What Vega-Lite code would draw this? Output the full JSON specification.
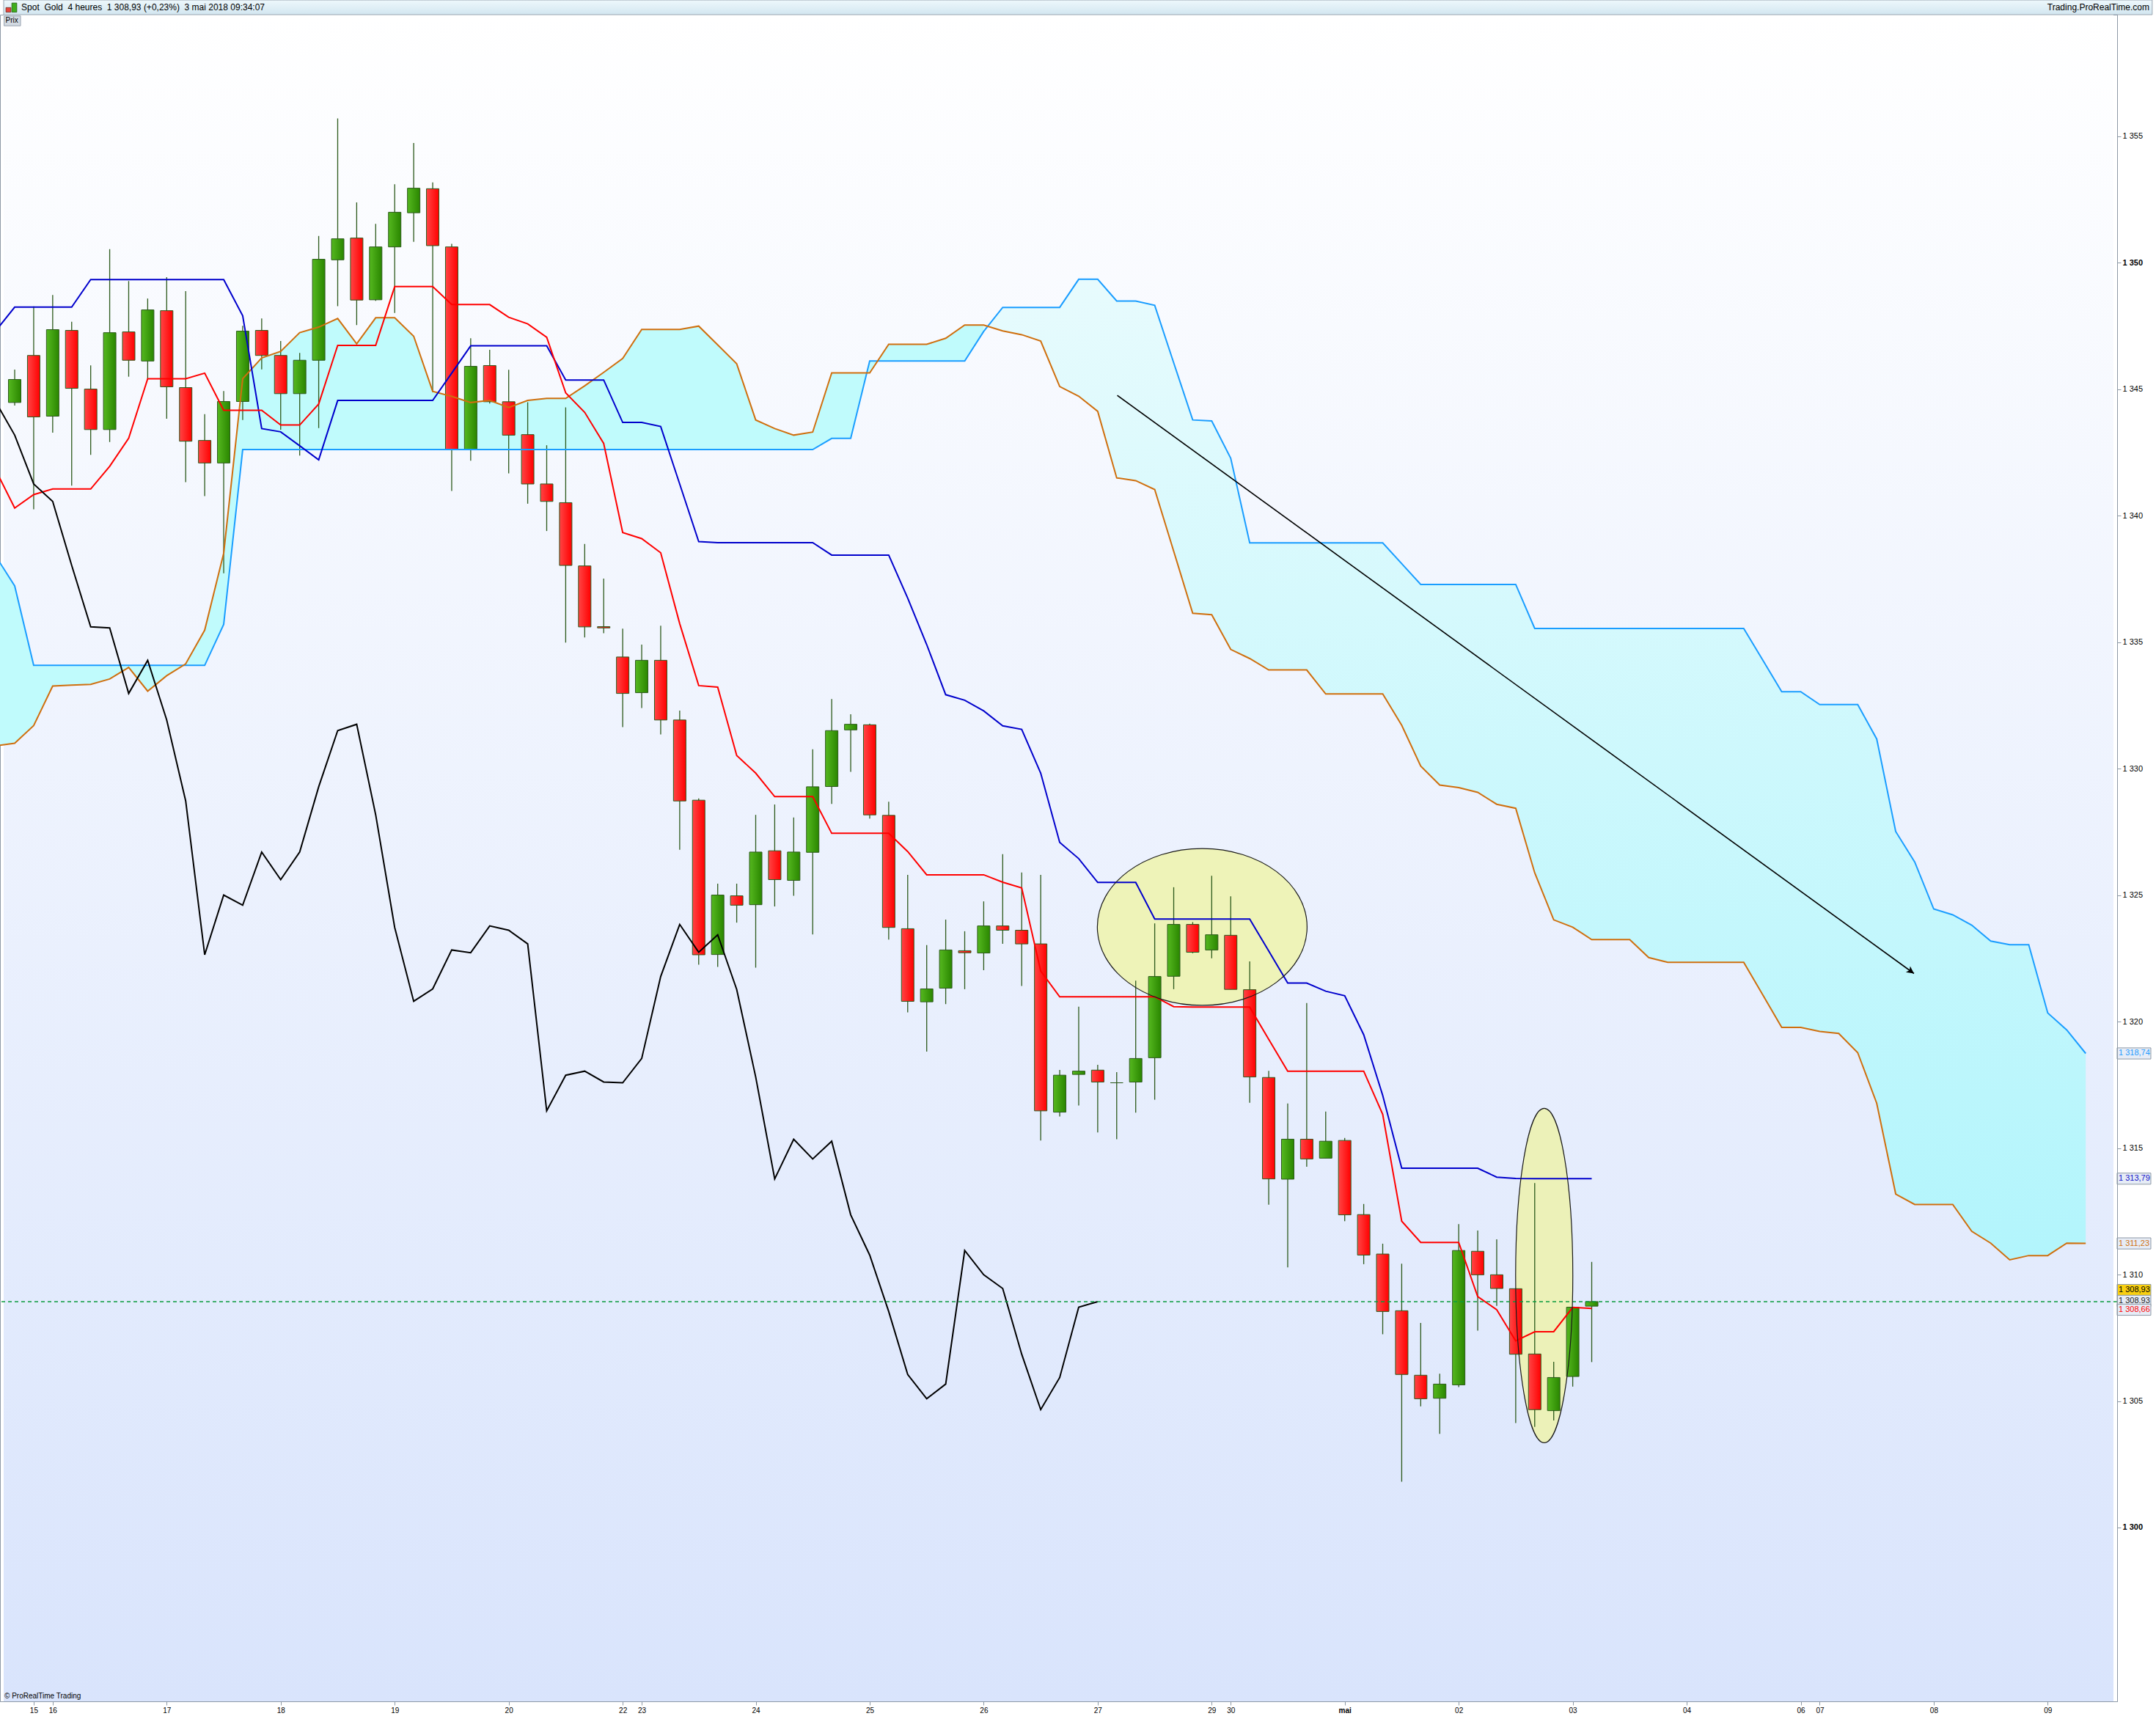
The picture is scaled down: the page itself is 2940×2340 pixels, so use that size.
{
  "$schema": "https://vega.github.io/schema/vega-lite/v6.json",
  "width": 2887,
  "height": 2300,
  "autosize": "none",
  "padding": {"left": 0, "top": 20, "right": 53, "bottom": 20},
  "background": "white",
  "config": {"view": {"stroke": "#8d99a6", "strokeWidth": 1}, "font": "Liberation Sans"},
  "datasets": {
    "ichi": [
      {"i": -1, "tk": 1341.8, "kj": 1347.3, "sa": 1330.9, "sb": 1338.4, "ck": 1344.50},
      {"i": 0, "o": 1344.47, "h": 1345.77, "l": 1344.35, "c": 1345.38, "tk": 1340.30, "kj": 1348.24, "sa": 1331.0, "sb": 1337.22, "ck": 1343.18},
      {"i": 1, "o": 1346.33, "h": 1348.27, "l": 1340.25, "c": 1343.90, "tk": 1340.83, "kj": 1348.24, "sa": 1331.7, "sb": 1334.08, "ck": 1341.25},
      {"i": 2, "o": 1343.93, "h": 1348.72, "l": 1343.28, "c": 1347.35, "tk": 1341.05, "kj": 1348.24, "sa": 1333.26, "sb": 1334.08, "ck": 1340.56},
      {"i": 3, "o": 1347.32, "h": 1347.66, "l": 1341.18, "c": 1345.03, "tk": 1341.05, "kj": 1348.24, "sa": 1333.30, "sb": 1334.08, "ck": 1338.03},
      {"i": 4, "o": 1345.00, "h": 1345.94, "l": 1342.40, "c": 1343.40, "tk": 1341.05, "kj": 1349.33, "sa": 1333.33, "sb": 1334.08, "ck": 1335.60},
      {"i": 5, "o": 1343.40, "h": 1350.53, "l": 1342.91, "c": 1347.23, "tk": 1341.95, "kj": 1349.33, "sa": 1333.54, "sb": 1334.08, "ck": 1335.56},
      {"i": 6, "o": 1347.26, "h": 1349.27, "l": 1345.49, "c": 1346.14, "tk": 1343.06, "kj": 1349.33, "sa": 1334.00, "sb": 1334.08, "ck": 1332.97},
      {"i": 7, "o": 1346.11, "h": 1348.58, "l": 1345.38, "c": 1348.13, "tk": 1345.41, "kj": 1349.33, "sa": 1333.06, "sb": 1334.08, "ck": 1334.28},
      {"i": 8, "o": 1348.10, "h": 1349.42, "l": 1343.83, "c": 1345.09, "tk": 1345.41, "kj": 1349.33, "sa": 1333.67, "sb": 1334.08, "ck": 1331.92},
      {"i": 9, "o": 1345.06, "h": 1348.87, "l": 1341.32, "c": 1342.94, "tk": 1345.41, "kj": 1349.33, "sa": 1334.14, "sb": 1334.08, "ck": 1328.72},
      {"i": 10, "o": 1342.97, "h": 1344.01, "l": 1340.77, "c": 1342.08, "tk": 1345.63, "kj": 1349.33, "sa": 1335.47, "sb": 1334.08, "ck": 1322.64},
      {"i": 11, "o": 1342.08, "h": 1344.92, "l": 1337.72, "c": 1344.51, "tk": 1344.16, "kj": 1349.33, "sa": 1338.51, "sb": 1335.70, "ck": 1325.00},
      {"i": 12, "o": 1344.51, "h": 1347.50, "l": 1343.78, "c": 1347.29, "tk": 1344.16, "kj": 1347.90, "sa": 1345.41, "sb": 1342.61, "ck": 1324.60},
      {"i": 13, "o": 1347.32, "h": 1347.79, "l": 1345.78, "c": 1346.33, "tk": 1344.16, "kj": 1343.44, "sa": 1346.23, "sb": 1342.61, "ck": 1326.70},
      {"i": 14, "o": 1346.33, "h": 1346.90, "l": 1343.39, "c": 1344.82, "tk": 1343.58, "kj": 1343.31, "sa": 1346.49, "sb": 1342.61, "ck": 1325.61},
      {"i": 15, "o": 1344.82, "h": 1346.43, "l": 1342.37, "c": 1346.14, "tk": 1343.58, "kj": 1342.76, "sa": 1347.23, "sb": 1342.61, "ck": 1326.70},
      {"i": 16, "o": 1346.14, "h": 1351.05, "l": 1343.46, "c": 1350.13, "tk": 1344.41, "kj": 1342.20, "sa": 1347.45, "sb": 1342.61, "ck": 1329.28},
      {"i": 17, "o": 1350.11, "h": 1355.70, "l": 1348.28, "c": 1350.94, "tk": 1346.73, "kj": 1344.55, "sa": 1347.79, "sb": 1342.61, "ck": 1331.50},
      {"i": 18, "o": 1350.97, "h": 1352.38, "l": 1347.53, "c": 1348.52, "tk": 1346.73, "kj": 1344.55, "sa": 1346.79, "sb": 1342.61, "ck": 1331.75},
      {"i": 19, "o": 1348.53, "h": 1351.53, "l": 1348.49, "c": 1350.62, "tk": 1346.73, "kj": 1344.55, "sa": 1347.82, "sb": 1342.61, "ck": 1328.17},
      {"i": 20, "o": 1350.62, "h": 1353.10, "l": 1348.01, "c": 1351.99, "tk": 1349.05, "kj": 1344.55, "sa": 1347.82, "sb": 1342.61, "ck": 1323.72},
      {"i": 21, "o": 1351.97, "h": 1354.73, "l": 1350.82, "c": 1352.94, "tk": 1349.05, "kj": 1344.55, "sa": 1347.09, "sb": 1342.61, "ck": 1320.80},
      {"i": 22, "o": 1352.92, "h": 1353.17, "l": 1344.88, "c": 1350.67, "tk": 1349.05, "kj": 1344.55, "sa": 1344.91, "sb": 1342.61, "ck": 1321.29},
      {"i": 23, "o": 1350.62, "h": 1350.74, "l": 1340.97, "c": 1342.62, "tk": 1348.34, "kj": 1345.63, "sa": 1344.71, "sb": 1342.61, "ck": 1322.83},
      {"i": 24, "o": 1342.62, "h": 1347.01, "l": 1342.17, "c": 1345.90, "tk": 1348.34, "kj": 1346.71, "sa": 1344.47, "sb": 1342.61, "ck": 1322.72},
      {"i": 25, "o": 1345.93, "h": 1346.55, "l": 1344.43, "c": 1344.50, "tk": 1348.34, "kj": 1346.71, "sa": 1344.55, "sb": 1342.61, "ck": 1323.78},
      {"i": 26, "o": 1344.50, "h": 1345.76, "l": 1341.67, "c": 1343.18, "tk": 1347.84, "kj": 1346.71, "sa": 1344.27, "sb": 1342.61, "ck": 1323.61},
      {"i": 27, "o": 1343.20, "h": 1344.48, "l": 1340.47, "c": 1341.25, "tk": 1347.58, "kj": 1346.71, "sa": 1344.55, "sb": 1342.61, "ck": 1323.07},
      {"i": 28, "o": 1341.25, "h": 1342.78, "l": 1339.39, "c": 1340.56, "tk": 1347.05, "kj": 1346.71, "sa": 1344.63, "sb": 1342.61, "ck": 1316.47},
      {"i": 29, "o": 1340.51, "h": 1344.28, "l": 1334.98, "c": 1338.03, "tk": 1344.85, "kj": 1345.36, "sa": 1344.63, "sb": 1342.61, "ck": 1317.88},
      {"i": 30, "o": 1338.01, "h": 1338.88, "l": 1335.18, "c": 1335.60, "tk": 1344.08, "kj": 1345.36, "sa": 1345.13, "sb": 1342.61, "ck": 1318.04},
      {"i": 31, "o": 1335.61, "h": 1337.51, "l": 1335.35, "c": 1335.56, "tk": 1342.85, "kj": 1345.36, "sa": 1345.66, "sb": 1342.61, "ck": 1317.61},
      {"i": 32, "o": 1334.41, "h": 1335.53, "l": 1331.64, "c": 1332.97, "tk": 1339.33, "kj": 1343.68, "sa": 1346.21, "sb": 1342.61, "ck": 1317.58},
      {"i": 33, "o": 1333.00, "h": 1334.90, "l": 1332.39, "c": 1334.28, "tk": 1339.09, "kj": 1343.68, "sa": 1347.36, "sb": 1342.61, "ck": 1318.54},
      {"i": 34, "o": 1334.28, "h": 1335.65, "l": 1331.35, "c": 1331.92, "tk": 1338.53, "kj": 1343.52, "sa": 1347.36, "sb": 1342.61, "ck": 1321.78},
      {"i": 35, "o": 1331.92, "h": 1332.29, "l": 1326.79, "c": 1328.72, "tk": 1335.73, "kj": 1341.25, "sa": 1347.36, "sb": 1342.61, "ck": 1323.84},
      {"i": 36, "o": 1328.75, "h": 1328.82, "l": 1322.25, "c": 1322.64, "tk": 1333.28, "kj": 1338.97, "sa": 1347.49, "sb": 1342.61, "ck": 1322.74},
      {"i": 37, "o": 1322.65, "h": 1325.45, "l": 1322.16, "c": 1325.00, "tk": 1333.22, "kj": 1338.93, "sa": 1346.75, "sb": 1342.61, "ck": 1323.43},
      {"i": 38, "o": 1324.97, "h": 1325.45, "l": 1323.91, "c": 1324.60, "tk": 1330.52, "kj": 1338.93, "sa": 1346.00, "sb": 1342.61, "ck": 1321.27},
      {"i": 39, "o": 1324.62, "h": 1328.17, "l": 1322.13, "c": 1326.70, "tk": 1329.82, "kj": 1338.93, "sa": 1343.78, "sb": 1342.61, "ck": 1317.81},
      {"i": 40, "o": 1326.75, "h": 1328.58, "l": 1324.55, "c": 1325.61, "tk": 1328.89, "kj": 1338.93, "sa": 1343.44, "sb": 1342.61, "ck": 1313.78},
      {"i": 41, "o": 1325.58, "h": 1328.07, "l": 1324.97, "c": 1326.70, "tk": 1328.89, "kj": 1338.93, "sa": 1343.18, "sb": 1342.61, "ck": 1315.35},
      {"i": 42, "o": 1326.69, "h": 1330.76, "l": 1323.44, "c": 1329.28, "tk": 1328.89, "kj": 1338.93, "sa": 1343.30, "sb": 1342.61, "ck": 1314.57},
      {"i": 43, "o": 1329.29, "h": 1332.75, "l": 1328.60, "c": 1331.50, "tk": 1327.44, "kj": 1338.44, "sa": 1345.64, "sb": 1343.05, "ck": 1315.27},
      {"i": 44, "o": 1331.53, "h": 1332.15, "l": 1329.87, "c": 1331.75, "tk": 1327.44, "kj": 1338.44, "sa": 1345.64, "sb": 1343.05, "ck": 1312.36},
      {"i": 45, "o": 1331.73, "h": 1331.78, "l": 1328.02, "c": 1328.17, "tk": 1327.44, "kj": 1338.44, "sa": 1345.64, "sb": 1346.11, "ck": 1310.77},
      {"i": 46, "o": 1328.15, "h": 1328.69, "l": 1323.24, "c": 1323.72, "tk": 1327.44, "kj": 1338.44, "sa": 1346.77, "sb": 1346.11, "ck": 1308.54},
      {"i": 47, "o": 1323.67, "h": 1325.80, "l": 1320.36, "c": 1320.80, "tk": 1326.72, "kj": 1336.74, "sa": 1346.77, "sb": 1346.11, "ck": 1306.05},
      {"i": 48, "o": 1320.78, "h": 1323.02, "l": 1318.81, "c": 1321.29, "tk": 1325.80, "kj": 1334.90, "sa": 1346.77, "sb": 1346.11, "ck": 1305.09},
      {"i": 49, "o": 1321.32, "h": 1324.03, "l": 1320.69, "c": 1322.83, "tk": 1325.80, "kj": 1332.92, "sa": 1347.01, "sb": 1346.11, "ck": 1305.67},
      {"i": 50, "o": 1322.80, "h": 1323.57, "l": 1321.28, "c": 1322.72, "tk": 1325.80, "kj": 1332.70, "sa": 1347.53, "sb": 1346.11, "ck": 1310.95},
      {"i": 51, "o": 1322.71, "h": 1324.75, "l": 1322.03, "c": 1323.78, "tk": 1325.80, "kj": 1332.28, "sa": 1347.53, "sb": 1347.28, "ck": 1309.99},
      {"i": 52, "o": 1323.78, "h": 1326.62, "l": 1323.07, "c": 1323.61, "tk": 1325.51, "kj": 1331.69, "sa": 1347.30, "sb": 1348.23, "ck": 1309.45},
      {"i": 53, "o": 1323.61, "h": 1325.89, "l": 1321.41, "c": 1323.07, "tk": 1325.28, "kj": 1331.55, "sa": 1347.15, "sb": 1348.23, "ck": 1306.85},
      {"i": 54, "o": 1323.07, "h": 1325.80, "l": 1315.30, "c": 1316.47, "tk": 1322.00, "kj": 1329.82, "sa": 1346.90, "sb": 1348.23, "ck": 1304.66},
      {"i": 55, "o": 1316.42, "h": 1318.09, "l": 1316.25, "c": 1317.88, "tk": 1320.98, "kj": 1327.08, "sa": 1345.10, "sb": 1348.23, "ck": 1305.93},
      {"i": 56, "o": 1317.91, "h": 1320.59, "l": 1316.68, "c": 1318.04, "tk": 1320.98, "kj": 1326.44, "sa": 1344.72, "sb": 1349.34, "ck": 1308.71},
      {"i": 57, "o": 1318.08, "h": 1318.29, "l": 1315.62, "c": 1317.61, "tk": 1320.98, "kj": 1325.50, "sa": 1344.12, "sb": 1349.34, "ck": 1308.93},
      {"i": 58, "o": 1317.58, "h": 1318.00, "l": 1315.35, "c": 1317.58, "tk": 1320.98, "kj": 1325.50, "sa": 1341.49, "sb": 1348.48},
      {"i": 59, "o": 1317.61, "h": 1321.62, "l": 1316.40, "c": 1318.54, "tk": 1320.98, "kj": 1325.50, "sa": 1341.38, "sb": 1348.48},
      {"i": 60, "o": 1318.57, "h": 1323.88, "l": 1316.91, "c": 1321.78, "tk": 1320.98, "kj": 1324.05, "sa": 1341.03, "sb": 1348.31},
      {"i": 61, "o": 1321.79, "h": 1325.31, "l": 1321.28, "c": 1323.84, "tk": 1320.59, "kj": 1324.05, "sa": 1338.59, "sb": 1346.04},
      {"i": 62, "o": 1323.84, "h": 1323.93, "l": 1322.70, "c": 1322.74, "tk": 1320.57, "kj": 1324.05, "sa": 1336.14, "sb": 1343.78},
      {"i": 63, "o": 1322.83, "h": 1325.76, "l": 1322.50, "c": 1323.43, "tk": 1320.57, "kj": 1324.05, "sa": 1336.08, "sb": 1343.74},
      {"i": 64, "o": 1323.41, "h": 1324.95, "l": 1321.27, "c": 1321.27, "tk": 1320.57, "kj": 1324.05, "sa": 1334.71, "sb": 1342.27},
      {"i": 65, "o": 1321.26, "h": 1322.38, "l": 1316.79, "c": 1317.81, "tk": 1320.57, "kj": 1324.05, "sa": 1334.35, "sb": 1338.92},
      {"i": 66, "o": 1317.79, "h": 1318.05, "l": 1312.76, "c": 1313.78, "tk": 1319.30, "kj": 1322.79, "sa": 1333.90, "sb": 1338.92},
      {"i": 67, "o": 1313.77, "h": 1316.76, "l": 1310.28, "c": 1315.35, "tk": 1318.04, "kj": 1321.52, "sa": 1333.90, "sb": 1338.92},
      {"i": 68, "o": 1315.35, "h": 1320.73, "l": 1314.26, "c": 1314.57, "tk": 1318.04, "kj": 1321.52, "sa": 1333.90, "sb": 1338.92},
      {"i": 69, "o": 1314.60, "h": 1316.44, "l": 1314.60, "c": 1315.27, "tk": 1318.04, "kj": 1321.20, "sa": 1332.95, "sb": 1338.92},
      {"i": 70, "o": 1315.30, "h": 1315.40, "l": 1312.11, "c": 1312.36, "tk": 1318.04, "kj": 1321.02, "sa": 1332.95, "sb": 1338.92},
      {"i": 71, "o": 1312.37, "h": 1312.79, "l": 1310.41, "c": 1310.77, "tk": 1318.04, "kj": 1319.48, "sa": 1332.95, "sb": 1338.92},
      {"i": 72, "o": 1310.81, "h": 1311.22, "l": 1307.64, "c": 1308.54, "tk": 1316.33, "kj": 1317.08, "sa": 1332.95, "sb": 1338.92},
      {"i": 73, "o": 1308.57, "h": 1310.43, "l": 1301.81, "c": 1306.05, "tk": 1312.11, "kj": 1314.20, "sa": 1331.71, "sb": 1338.10},
      {"i": 74, "o": 1306.02, "h": 1308.09, "l": 1304.79, "c": 1305.09, "tk": 1311.27, "kj": 1314.20, "sa": 1330.10, "sb": 1337.28},
      {"i": 75, "o": 1305.11, "h": 1306.08, "l": 1303.70, "c": 1305.67, "tk": 1311.27, "kj": 1314.20, "sa": 1329.35, "sb": 1337.28},
      {"i": 76, "o": 1305.64, "h": 1311.99, "l": 1305.55, "c": 1310.95, "tk": 1311.27, "kj": 1314.20, "sa": 1329.25, "sb": 1337.28},
      {"i": 77, "o": 1310.92, "h": 1311.74, "l": 1307.78, "c": 1309.99, "tk": 1309.13, "kj": 1314.20, "sa": 1329.06, "sb": 1337.28},
      {"i": 78, "o": 1309.99, "h": 1311.39, "l": 1308.76, "c": 1309.45, "tk": 1308.61, "kj": 1313.85, "sa": 1328.59, "sb": 1337.28},
      {"i": 79, "o": 1309.44, "h": 1309.44, "l": 1304.13, "c": 1306.85, "tk": 1307.38, "kj": 1313.80, "sa": 1328.43, "sb": 1337.28},
      {"i": 80, "o": 1306.86, "h": 1313.62, "l": 1303.98, "c": 1304.66, "tk": 1307.74, "kj": 1313.79, "sa": 1325.88, "sb": 1335.54},
      {"i": 81, "o": 1304.62, "h": 1306.55, "l": 1304.23, "c": 1305.93, "tk": 1307.74, "kj": 1313.79, "sa": 1324.02, "sb": 1335.54},
      {"i": 82, "o": 1305.97, "h": 1308.71, "l": 1305.57, "c": 1308.71, "tk": 1308.70, "kj": 1313.79, "sa": 1323.73, "sb": 1335.54},
      {"i": 83, "o": 1308.75, "h": 1310.50, "l": 1306.54, "c": 1308.93, "tk": 1308.66, "kj": 1313.79, "sa": 1323.24, "sb": 1335.54},
      {"i": 84, "sa": 1323.24, "sb": 1335.54},
      {"i": 85, "sa": 1323.24, "sb": 1335.54},
      {"i": 86, "sa": 1322.53, "sb": 1335.54},
      {"i": 87, "sa": 1322.34, "sb": 1335.54},
      {"i": 88, "sa": 1322.34, "sb": 1335.54},
      {"i": 89, "sa": 1322.34, "sb": 1335.54},
      {"i": 90, "sa": 1322.34, "sb": 1335.54},
      {"i": 91, "sa": 1322.34, "sb": 1335.54},
      {"i": 92, "sa": 1321.06, "sb": 1334.29},
      {"i": 93, "sa": 1319.77, "sb": 1333.04},
      {"i": 94, "sa": 1319.77, "sb": 1333.04},
      {"i": 95, "sa": 1319.61, "sb": 1332.53},
      {"i": 96, "sa": 1319.53, "sb": 1332.53},
      {"i": 97, "sa": 1318.77, "sb": 1332.53},
      {"i": 98, "sa": 1316.77, "sb": 1331.17},
      {"i": 99, "sa": 1313.18, "sb": 1327.51},
      {"i": 100, "sa": 1312.77, "sb": 1326.31},
      {"i": 101, "sa": 1312.77, "sb": 1324.45},
      {"i": 102, "sa": 1312.77, "sb": 1324.22},
      {"i": 103, "sa": 1311.71, "sb": 1323.81},
      {"i": 104, "sa": 1311.24, "sb": 1323.18},
      {"i": 105, "sa": 1310.58, "sb": 1323.04},
      {"i": 106, "sa": 1310.75, "sb": 1323.04},
      {"i": 107, "sa": 1310.75, "sb": 1320.34},
      {"i": 108, "sa": 1311.24, "sb": 1319.67},
      {"i": 109, "sa": 1311.23, "sb": 1318.74}
    ],
    "boxes": [
      {"lab": "1 318,74", "v": 1318.74, "k": "ssb"},
      {"lab": "1 313,79", "v": 1313.79, "k": "kj"},
      {"lab": "1 311,23", "v": 1311.23, "k": "sa"},
      {"lab": "1 308,93", "v": 1309.39, "k": "last"},
      {"lab": "1 308.93", "v": 1308.96, "k": "px"},
      {"lab": "1 308,66", "v": 1308.61, "k": "tk"}
    ],
    "arrow": [{"x1": 58.03, "y1": 1344.75, "x2": 99.96, "y2": 1321.90}]
  },
  "data": {"name": "ichi"},
  "layer": [
    {
      "transform": [{"filter": "isValid(datum.o)"}],
      "mark": {"type": "rule", "color": "#2d5a1c", "strokeWidth": 1.3, "opacity": 0},
      "encoding": {
        "x": {
          "field": "i", "type": "quantitative",
          "scale": {"domain": [-0.58, 110.46], "nice": false, "zero": false},
          "axis": {
            "values": [1, 2, 8, 14, 20, 26, 32, 33, 39, 45, 51, 57, 63, 64, 70, 76, 82, 88, 94, 95, 101, 107],
            "labelExpr": "['15','16','17','18','19','20','22','23','24','25','26','27','29','30','mai','02','03','04','06','07','08','09'][indexof([1,2,8,14,20,26,32,33,39,45,51,57,63,64,70,76,82,88,94,95,101,107], datum.value)]",
            "title": null, "grid": false, "tickSize": 5, "tickColor": "#8d99a6", "domainColor": "#8d99a6",
            "labelFont": "Liberation Sans", "labelFontSize": 10, "labelColor": "#000000", "labelPadding": 2,
            "labelOverlap": false, "labelFlush": false, "zindex": 1,
            "labelFontWeight": {"condition": {"test": "datum.value === 70", "value": "bold"}, "value": "normal"}
          }
        },
        "y": {
          "field": "l", "type": "quantitative",
          "scale": {"domain": [1293.13, 1359.8], "nice": false, "zero": false},
          "axis": {
            "orient": "right",
            "values": [1300, 1305, 1310, 1315, 1320, 1325, 1330, 1335, 1340, 1345, 1350, 1355],
            "labelExpr": "replace(format(datum.value, ','), ',', ' ')",
            "title": null, "grid": false, "tickSize": 5, "tickColor": "#8d99a6", "domainColor": "#8d99a6",
            "labelFont": "Liberation Sans", "labelFontSize": 11, "labelColor": "#000000", "labelPadding": 2,
            "labelOverlap": false, "labelFlush": false, "zindex": 1,
            "labelFontWeight": {"condition": {"test": "datum.value % 50 === 0", "value": "bold"}, "value": "normal"}
          }
        },
        "y2": {"field": "h"}
      }
    },
    {
      "data": {"values": [{}]},
      "mark": {"type": "rect", "fill": {"gradient": "linear", "x1": 0, "y1": 0, "x2": 0, "y2": 1, "stops": [{"offset": 0, "color": "#ffffff"}, {"offset": 1, "color": "#d9e4fc"}]}},
      "encoding": {
        "x": {"datum": -0.58}, "x2": {"datum": 110.46},
        "y": {"datum": 1359.8}, "y2": {"datum": 1293.13}
      }
    },
    {
      "transform": [{"filter": "datum.i <= 51"}],
      "mark": {"type": "area", "clip": true, "color": "#c0fbfc", "opacity": 1},
      "encoding": {
        "x": {"field": "i", "type": "quantitative"},
        "y": {"field": "sa", "type": "quantitative"},
        "y2": {"field": "sb"}
      }
    },
    {
      "transform": [{"filter": "datum.i >= 51"}],
      "mark": {"type": "area", "clip": true, "opacity": 1, "fill": {"gradient": "linear", "x1": 0, "y1": 0, "x2": 0, "y2": 1, "stops": [{"offset": 0, "color": "#e7fbfd"}, {"offset": 1, "color": "#b2f5fc"}]}},
      "encoding": {
        "x": {"field": "i", "type": "quantitative"},
        "y": {"field": "sa", "type": "quantitative"},
        "y2": {"field": "sb"}
      }
    },
    {
      "data": {"values": [{"i": 62.5, "v": 1323.74}]},
      "mark": {"type": "point", "filled": true, "opacity": 1, "color": "#eef3b8", "shape": "M-1,0 A1,0.748 0 1,1 1,0 A1,0.748 0 1,1 -1,0 Z", "size": 81796},
      "encoding": {
        "x": {"field": "i", "type": "quantitative"},
        "y": {"field": "v", "type": "quantitative"}
      }
    },
    {
      "data": {"values": [{"i": 80.5, "v": 1309.96}]},
      "mark": {"type": "point", "filled": true, "opacity": 1, "color": "#ecf1b8", "shape": "M-0.171,0 A0.171,1 0 1,1 0.171,0 A0.171,1 0 1,1 -0.171,0 Z", "size": 207936},
      "encoding": {
        "x": {"field": "i", "type": "quantitative"},
        "y": {"field": "v", "type": "quantitative"}
      }
    },
    {
      "transform": [{"filter": "isValid(datum.o)"}],
      "mark": {"type": "rule", "color": "#2d5a1c", "strokeWidth": 1.3},
      "encoding": {
        "x": {"field": "i", "type": "quantitative"},
        "y": {"field": "l", "type": "quantitative"},
        "y2": {"field": "h"}
      }
    },
    {
      "transform": [{"filter": "isValid(datum.o) && datum.c >= datum.o"}],
      "mark": {"type": "bar", "stroke": "#2d5a1c", "strokeWidth": 1, "fill": {"gradient": "linear", "x1": 0, "y1": 0, "x2": 1, "y2": 0, "stops": [{"offset": 0, "color": "#55b81f"}, {"offset": 1, "color": "#2a8600"}]}},
      "encoding": {
        "x": {"field": "i", "type": "quantitative"},
        "y": {"field": "o", "type": "quantitative"},
        "y2": {"field": "c"},
        "size": {"value": 17}
      }
    },
    {
      "transform": [{"filter": "isValid(datum.o) && datum.c < datum.o"}],
      "mark": {"type": "bar", "stroke": "#2d5a1c", "strokeWidth": 1, "fill": {"gradient": "linear", "x1": 0, "y1": 0, "x2": 1, "y2": 0, "stops": [{"offset": 0, "color": "#ff4545"}, {"offset": 1, "color": "#ff0000"}]}},
      "encoding": {
        "x": {"field": "i", "type": "quantitative"},
        "y": {"field": "o", "type": "quantitative"},
        "y2": {"field": "c"},
        "size": {"value": 17}
      }
    },
    {
      "mark": {"type": "line", "clip": true, "color": "#1a9dff", "strokeWidth": 2},
      "encoding": {
        "x": {"field": "i", "type": "quantitative"},
        "y": {"field": "sb", "type": "quantitative"}
      }
    },
    {
      "mark": {"type": "line", "clip": true, "color": "#cf6f0e", "strokeWidth": 2},
      "encoding": {
        "x": {"field": "i", "type": "quantitative"},
        "y": {"field": "sa", "type": "quantitative"}
      }
    },
    {
      "mark": {"type": "line", "clip": true, "color": "#0000cc", "strokeWidth": 2},
      "encoding": {
        "x": {"field": "i", "type": "quantitative"},
        "y": {"field": "kj", "type": "quantitative"}
      }
    },
    {
      "mark": {"type": "line", "clip": true, "color": "#ff0000", "strokeWidth": 2},
      "encoding": {
        "x": {"field": "i", "type": "quantitative"},
        "y": {"field": "tk", "type": "quantitative"}
      }
    },
    {
      "mark": {"type": "line", "clip": true, "color": "#000000", "strokeWidth": 2},
      "encoding": {
        "x": {"field": "i", "type": "quantitative"},
        "y": {"field": "ck", "type": "quantitative"}
      }
    },
    {
      "data": {"values": [{}]},
      "mark": {"type": "rule", "color": "#0a9a3c", "strokeWidth": 1.5, "strokeDash": [5, 4]},
      "encoding": {"y": {"datum": 1308.93}}
    },
    {
      "data": {"values": [{"i": 62.5, "v": 1323.74}]},
      "mark": {"type": "point", "filled": false, "opacity": 1, "color": "#1a1a1a", "strokeWidth": 1.2, "shape": "M-1,0 A1,0.748 0 1,1 1,0 A1,0.748 0 1,1 -1,0 Z", "size": 81796},
      "encoding": {
        "x": {"field": "i", "type": "quantitative"},
        "y": {"field": "v", "type": "quantitative"}
      }
    },
    {
      "data": {"values": [{"i": 80.5, "v": 1309.96}]},
      "mark": {"type": "point", "filled": false, "opacity": 1, "color": "#1a1a1a", "strokeWidth": 1.2, "shape": "M-0.171,0 A0.171,1 0 1,1 0.171,0 A0.171,1 0 1,1 -0.171,0 Z", "size": 207936},
      "encoding": {
        "x": {"field": "i", "type": "quantitative"},
        "y": {"field": "v", "type": "quantitative"}
      }
    },
    {
      "data": {"name": "arrow"},
      "mark": {"type": "rule", "color": "#000000", "strokeWidth": 1.6},
      "encoding": {
        "x": {"field": "x1", "type": "quantitative"},
        "y": {"field": "y1", "type": "quantitative"},
        "x2": {"field": "x2"},
        "y2": {"field": "y2"}
      }
    },
    {
      "data": {"name": "arrow"},
      "mark": {"type": "point", "filled": true, "opacity": 1, "color": "#000000", "shape": "M0,0 L-1,-0.5 L-0.75,0 L-1,0.5 Z", "size": 400, "angle": 35.9},
      "encoding": {
        "x": {"field": "x2", "type": "quantitative"},
        "y": {"field": "y2", "type": "quantitative"}
      }
    },
    {
      "data": {"values": [{}]},
      "mark": {"type": "rect", "fill": {"gradient": "linear", "x1": 0, "y1": 0, "x2": 0, "y2": 1, "stops": [{"offset": 0, "color": "#eef8fc"}, {"offset": 1, "color": "#d2e6f0"}]}, "stroke": "#98a4b0", "strokeWidth": 1},
      "encoding": {
        "x": {"datum": -0.58}, "x2": {"datum": 112.5},
        "y": {"datum": 1360.38}, "y2": {"datum": 1359.8}
      }
    },
    {
      "data": {"values": [{}]},
      "mark": {"type": "rect", "fill": "#e8453c", "stroke": "#6a2a20", "strokeWidth": 0.8},
      "encoding": {
        "x": {"datum": -0.46}, "x2": {"datum": -0.2},
        "y": {"datum": 1360.08}, "y2": {"datum": 1359.9}
      }
    },
    {
      "data": {"values": [{}]},
      "mark": {"type": "rect", "fill": "#3fae1c", "stroke": "#1f5a10", "strokeWidth": 0.8},
      "encoding": {
        "x": {"datum": -0.15}, "x2": {"datum": 0.11},
        "y": {"datum": 1360.26}, "y2": {"datum": 1359.9}
      }
    },
    {
      "data": {"values": [{"t": "Spot\u00a0\u00a0Gold\u00a0\u00a04 heures\u00a0\u00a01 308,93 (+0,23%)\u00a0\u00a03 mai 2018 09:34:07"}]},
      "mark": {"type": "text", "align": "left", "baseline": "middle", "fontSize": 12, "color": "#000000", "font": "Liberation Sans"},
      "encoding": {
        "x": {"datum": 0.35},
        "y": {"datum": 1360.09},
        "text": {"field": "t"}
      }
    },
    {
      "data": {"values": [{"t": "Trading.ProRealTime.com"}]},
      "mark": {"type": "text", "align": "right", "baseline": "middle", "fontSize": 12, "color": "#000000", "font": "Liberation Sans"},
      "encoding": {
        "x": {"datum": 112.35},
        "y": {"datum": 1360.09},
        "text": {"field": "t"}
      }
    },
    {
      "data": {"values": [{}]},
      "mark": {"type": "rect", "fill": "#d3dae2", "stroke": "#9aa5b1", "strokeWidth": 1},
      "encoding": {
        "x": {"datum": -0.56}, "x2": {"datum": 0.31},
        "y": {"datum": 1359.75}, "y2": {"datum": 1359.36}
      }
    },
    {
      "data": {"values": [{"t": "Prix"}]},
      "mark": {"type": "text", "align": "left", "baseline": "middle", "fontSize": 10, "color": "#000000"},
      "encoding": {
        "x": {"datum": -0.48},
        "y": {"datum": 1359.555},
        "text": {"field": "t"}
      }
    },
    {
      "data": {"values": [{"t": "© ProRealTime Trading"}]},
      "mark": {"type": "text", "align": "left", "baseline": "alphabetic", "fontSize": 10, "color": "#000000"},
      "encoding": {
        "x": {"datum": -0.54},
        "y": {"datum": 1293.25},
        "text": {"field": "t"}
      }
    },
    {
      "data": {"name": "boxes"},
      "mark": {"type": "point", "filled": true, "opacity": 1, "stroke": "#8d99a6", "strokeWidth": 1, "shape": "M-1,-0.33 L1,-0.33 L1,0.33 L-1,0.33 Z", "size": 2116},
      "encoding": {
        "x": {"datum": 111.54},
        "y": {"field": "v", "type": "quantitative"},
        "fill": {"field": "k", "type": "nominal", "legend": null, "scale": {"domain": ["ssb", "kj", "sa", "last", "px", "tk"], "range": ["#e6ecf6", "#e6ecf6", "#e6ecf6", "#f8cf10", "#e6ecf6", "#e6ecf6"]}}
      }
    },
    {
      "data": {"name": "boxes"},
      "mark": {"type": "text", "align": "left", "baseline": "middle", "fontSize": 11},
      "encoding": {
        "x": {"datum": 110.73},
        "y": {"field": "v", "type": "quantitative"},
        "text": {"field": "lab"},
        "color": {"field": "k", "type": "nominal", "legend": null, "scale": {"domain": ["ssb", "kj", "sa", "last", "px", "tk"], "range": ["#1f9bff", "#1010c8", "#d0700e", "#000000", "#222222", "#ff0000"]}}
      }
    }
  ]
}
